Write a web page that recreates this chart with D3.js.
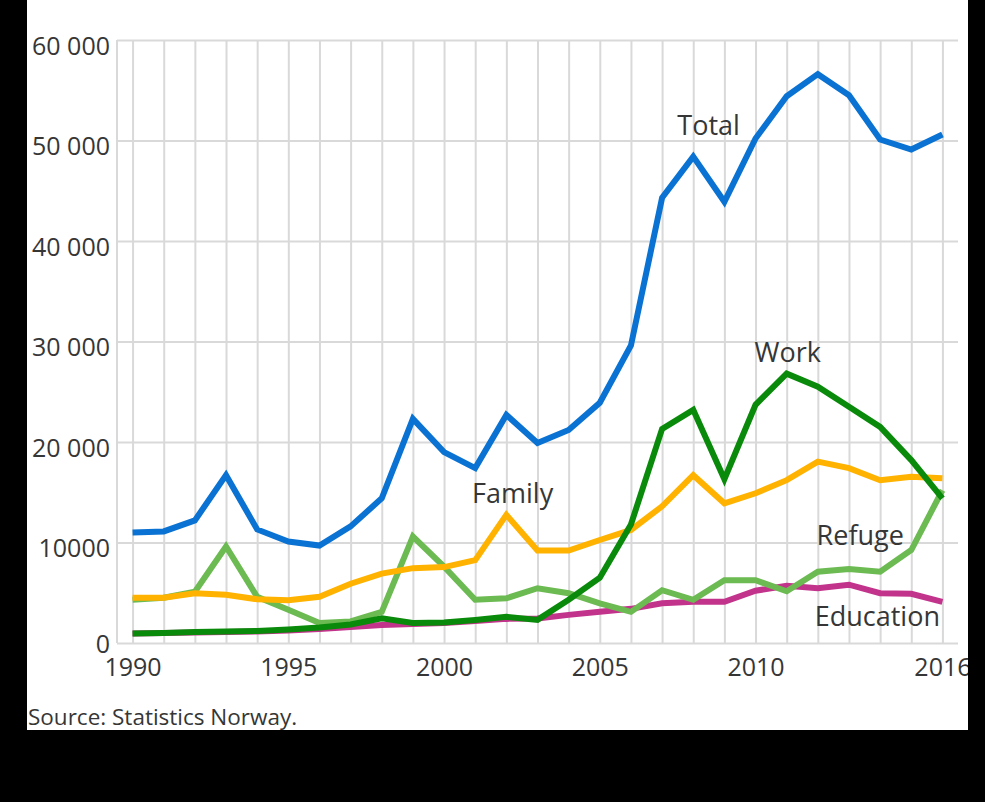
<!DOCTYPE html>
<html>
<head>
<meta charset="utf-8">
<script src="https://cdn.jsdelivr.net/npm/d3@7"></script>
<style>
  html, body { margin: 0; padding: 0; background: #000; }
  svg { display: block; }
  text { font-family: "Open Sans", "DejaVu Sans", sans-serif; fill: #363636; }
</style>
</head>
<body>
<svg id="chart" width="985" height="802"></svg>
<script>
// ---- data ----
const years = [1990,1991,1992,1993,1994,1995,1996,1997,1998,1999,2000,2001,2002,2003,2004,2005,2006,2007,2008,2009,2010,2011,2012,2013,2014,2015,2016];
const total = [11000,11100,12200,16700,11300,10100,9700,11600,14400,22300,19000,17400,22700,19900,21200,23900,29600,44300,48400,43900,50200,54400,56600,54500,50100,49100,50600];
const work = [950,1000,1100,1150,1200,1350,1550,1850,2450,2000,2050,2300,2600,2300,4300,6500,11800,21300,23200,16300,23700,26800,25500,23500,21500,18200,14400];
const family = [4500,4500,4950,4800,4350,4250,4600,5900,6900,7450,7550,8250,12750,9200,9200,10250,11250,13600,16700,13900,14900,16200,18050,17400,16200,16550,16400];
const refuge = [4300,4500,5100,9600,4600,3300,2000,2150,3100,10600,7600,4300,4450,5450,4950,3950,3100,5250,4300,6250,6250,5150,7100,7350,7100,9250,15200];
const education = [950,1000,1050,1100,1150,1250,1400,1600,1800,1900,2000,2200,2400,2450,2800,3100,3400,3950,4100,4100,5200,5700,5450,5800,4950,4900,4100];

const yTickValues = [0,10000,20000,30000,40000,50000,60000];
const yTickLabels = ["0","10000","20 000","30 000","40 000","50 000","60 000"];
const xTickValues = [1990,1995,2000,2005,2010,2016];

const seriesNames = ["Education","Refuge","Family","Work","Total"];
const seriesValues = [education, refuge, family, work, total];
const seriesColors = ["#c2338b","#6cba52","#ffb300","#0a8a0a","#0a72d2"];

// annotation anchors (year, value) for series labels
const labelYears  = [2011.9, 2011.96, 2000.9, 2009.97, 2007.49];
const labelValues = [1690, 9750, 13930, 28000, 50550];

const sourceText = "Source: Statistics Norway.";

// ---- layout ----
const svg = d3.select("#chart");
const panel = {left: 27, top: 0, right: 968, bottom: 730};
const plot = {left: 117, top: 40, right: 958, bottom: 643};

svg.append("rect")
  .attr("x", panel.left).attr("y", panel.top)
  .attr("width", panel.right - panel.left).attr("height", panel.bottom - panel.top)
  .attr("fill", "#fff");

const x = d3.scaleLinear().domain([1989.5, 2016.5]).range([plot.left, plot.right]);
const y = d3.scaleLinear().domain([0, 60000]).range([plot.bottom, plot.top]);

const gridColor = "#d9d9d9";

// horizontal gridlines
svg.append("g")
  .attr("transform", `translate(${plot.left},0)`)
  .call(d3.axisLeft(y).tickValues(yTickValues).tickSize(-(plot.right - plot.left)).tickFormat(""))
  .call(g => g.select(".domain").remove())
  .call(g => g.selectAll(".tick line").attr("stroke", gridColor).attr("stroke-width", 2));

// vertical gridlines (every year) + left border
svg.append("g")
  .attr("transform", `translate(0,${plot.bottom})`)
  .call(d3.axisBottom(x).tickValues(years).tickSize(-(plot.bottom - plot.top)).tickFormat(""))
  .call(g => g.select(".domain").remove())
  .call(g => g.selectAll(".tick line").attr("stroke", gridColor).attr("stroke-width", 2));

svg.append("line")
  .attr("x1", plot.left).attr("x2", plot.left)
  .attr("y1", plot.top).attr("y2", plot.bottom)
  .attr("stroke", gridColor).attr("stroke-width", 2);

// y tick labels
const yAxis = svg.append("g")
  .attr("transform", `translate(${plot.left - 7},0)`)
  .call(d3.axisLeft(y).tickValues(yTickValues).tickSize(0)
        .tickFormat((d, i) => yTickLabels[i]));
yAxis.select(".domain").remove();
yAxis.selectAll("text")
  .attr("x", 0).attr("dy", d => d === 0 ? "0.38em" : "0.56em")
  .style("font-size", "25px").attr("fill", "#363636");

// x tick labels
const xAxis = svg.append("g")
  .attr("transform", `translate(0,${plot.bottom})`)
  .call(d3.axisBottom(x).tickValues(xTickValues).tickSize(0).tickFormat(d3.format("d")));
xAxis.select(".domain").remove();
xAxis.selectAll("text")
  .attr("y", 15).attr("dy", "0.71em")
  .style("font-size", "25px").attr("fill", "#363636");

// lines
const line = d3.line().x((d, i) => x(years[i])).y(d => y(d)).curve(d3.curveLinear);
seriesValues.forEach((vals, k) => {
  svg.append("path")
    .datum(vals)
    .attr("d", line)
    .attr("fill", "none")
    .attr("stroke", seriesColors[k])
    .attr("stroke-width", 6)
    .attr("stroke-linejoin", "miter")
    .attr("stroke-linecap", "butt");
});

// series labels
seriesNames.forEach((name, k) => {
  svg.append("text")
    .attr("x", x(labelYears[k]))
    .attr("y", y(labelValues[k]))
    .style("font-size", "27px")
    .text(name);
});

// source
svg.append("text")
  .attr("x", 28).attr("y", 725)
  .style("font-size", "22.5px")
  .text(sourceText);

// black frame over overflowing edges
svg.append("rect").attr("x", panel.right).attr("y", 0).attr("width", 985 - panel.right).attr("height", 802).attr("fill", "#000");
svg.append("rect").attr("x", 0).attr("y", panel.bottom).attr("width", 985).attr("height", 802 - panel.bottom).attr("fill", "#000");
svg.append("rect").attr("x", 0).attr("y", 0).attr("width", panel.left).attr("height", 802).attr("fill", "#000");
</script>
</body>
</html>
